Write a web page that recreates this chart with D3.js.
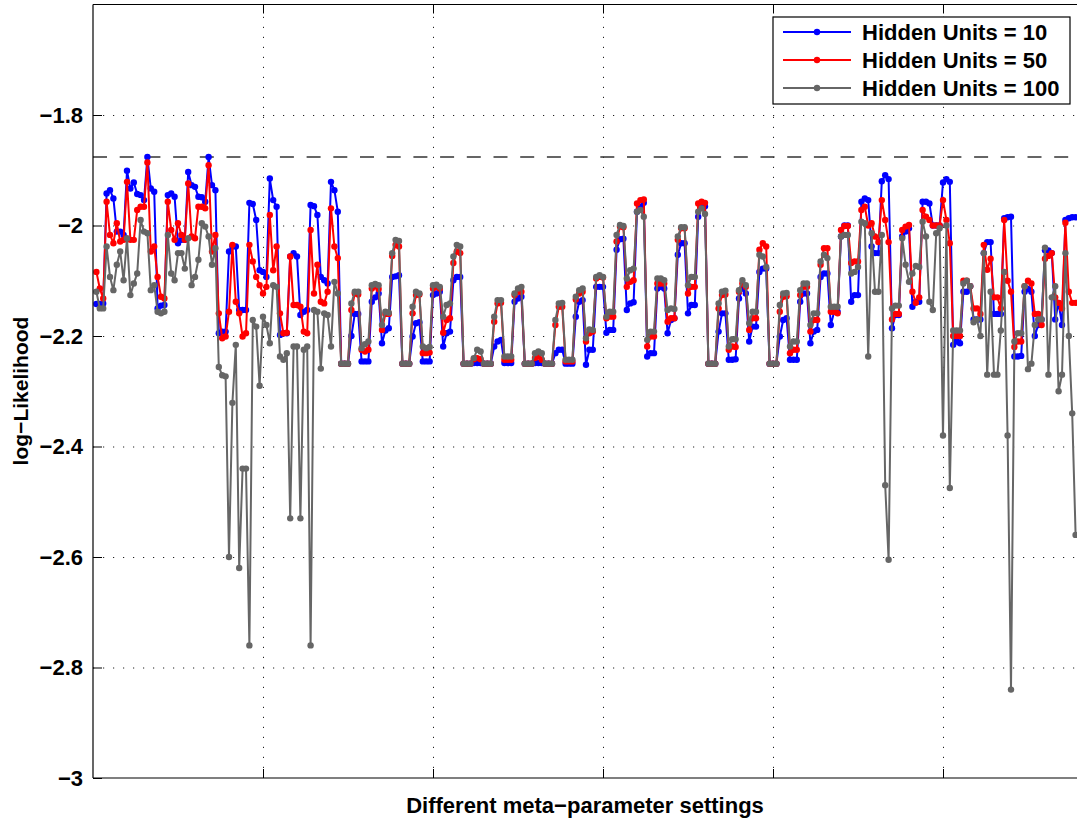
<!DOCTYPE html>
<html>
<head>
<meta charset="utf-8">
<script src="https://cdn.jsdelivr.net/npm/d3@7"></script>
<style>
  body { margin: 0; background: #fff; }
  svg { display: block; }
  text { font-family: "Liberation Sans", Arial, Helvetica, sans-serif; font-weight: bold; }
</style>
</head>
<body>
<svg id="chart" width="1077" height="821"></svg>
<script>
// log-likelihood per meta-parameter setting, one array per network size
const hidden10 = [
  -2.142,-2.142,-2.141,-1.942,-1.936,-1.951,-2.011,-2.011,-2.017,-1.901,-1.933,-1.922,-1.943,-1.945,-1.954,-1.876,-1.933,-1.939,
  -2.150,-2.145,-2.144,-1.945,-1.942,-1.948,-2.032,-2.026,-2.026,-1.903,-1.927,-1.930,-1.948,-1.949,-1.957,-1.876,-1.927,-1.936,
  -2.195,-2.192,-2.192,-2.047,-2.038,-2.038,-2.153,-2.153,-2.153,-1.959,-1.961,-1.990,-2.081,-2.084,-2.093,-1.915,-1.954,-1.966,
  -2.198,-2.195,-2.195,-2.056,-2.050,-2.056,-2.162,-2.156,-2.153,-1.963,-1.965,-1.981,-2.093,-2.099,-2.105,-1.921,-1.936,-1.975,
  -2.250,-2.250,-2.250,-2.200,-2.160,-2.160,-2.246,-2.246,-2.246,-2.138,-2.130,-2.123,-2.213,-2.190,-2.186,-2.093,-2.092,-2.090,
  -2.250,-2.250,-2.250,-2.201,-2.177,-2.175,-2.246,-2.246,-2.246,-2.126,-2.123,-2.120,-2.219,-2.195,-2.192,-2.099,-2.093,-2.093,
  -2.250,-2.250,-2.250,-2.249,-2.249,-2.249,-2.250,-2.250,-2.250,-2.219,-2.210,-2.207,-2.249,-2.249,-2.249,-2.138,-2.132,-2.129,
  -2.250,-2.250,-2.250,-2.249,-2.249,-2.249,-2.250,-2.250,-2.250,-2.231,-2.225,-2.225,-2.250,-2.250,-2.250,-2.165,-2.138,-2.135,
  -2.252,-2.225,-2.225,-2.111,-2.111,-2.111,-2.194,-2.189,-2.189,-2.044,-2.025,-2.024,-2.153,-2.141,-2.139,-1.975,-1.966,-1.959,
  -2.237,-2.231,-2.231,-2.114,-2.111,-2.114,-2.195,-2.171,-2.168,-2.053,-2.032,-2.032,-2.159,-2.144,-2.144,-1.984,-1.966,-1.965,
  -2.250,-2.250,-2.250,-2.192,-2.159,-2.159,-2.243,-2.243,-2.242,-2.132,-2.114,-2.123,-2.210,-2.183,-2.183,-2.084,-2.078,-2.078,
  -2.250,-2.250,-2.250,-2.201,-2.171,-2.168,-2.243,-2.243,-2.243,-2.138,-2.123,-2.123,-2.213,-2.192,-2.189,-2.093,-2.087,-2.087,
  -2.180,-2.156,-2.156,-2.020,-2.000,-2.000,-2.138,-2.126,-2.126,-1.957,-1.951,-1.954,-2.038,-2.050,-2.050,-1.920,-1.909,-1.916,
  -2.186,-2.162,-2.162,-2.020,-2.011,-2.005,-2.147,-2.138,-2.138,-1.957,-1.957,-1.960,-2.000,-2.000,-2.000,-1.922,-1.916,-1.921,
  -2.216,-2.210,-2.213,-2.120,-2.120,-2.110,-2.170,-2.170,-2.170,-2.050,-2.030,-2.030,-2.160,-2.160,-2.160,-1.987,-1.985,-1.984,
  -2.237,-2.237,-2.236,-2.120,-2.115,-2.120,-2.200,-2.180,-2.170,-2.045,-2.045,-2.050,-2.170,-2.140,-2.180,-1.990,-1.987,-1.985,
  -1.985
];
const hidden50 = [
  -2.084,-2.114,-2.132,-1.957,-2.017,-2.032,-1.996,-2.029,-2.026,-1.921,-2.026,-2.026,-1.972,-1.966,-1.966,-1.886,-2.047,-2.038,
  -2.093,-2.129,-2.132,-1.957,-2.008,-2.026,-1.996,-2.017,-2.026,-1.924,-2.020,-2.023,-1.966,-1.966,-1.969,-1.891,-2.047,-2.017,
  -2.159,-2.204,-2.201,-2.156,-2.035,-2.138,-2.159,-2.201,-2.195,-2.035,-2.065,-2.093,-2.108,-2.123,-2.111,-1.981,-2.081,-2.038,
  -2.159,-2.195,-2.194,-2.056,-2.144,-2.144,-2.147,-2.192,-2.195,-2.008,-2.123,-2.071,-2.138,-2.141,-2.120,-1.969,-2.038,-2.059,
  -2.250,-2.250,-2.250,-2.153,-2.123,-2.125,-2.225,-2.228,-2.225,-2.114,-2.110,-2.115,-2.189,-2.160,-2.160,-2.055,-2.035,-2.038,
  -2.250,-2.250,-2.250,-2.159,-2.126,-2.125,-2.231,-2.231,-2.230,-2.114,-2.111,-2.114,-2.194,-2.171,-2.168,-2.068,-2.047,-2.050,
  -2.250,-2.250,-2.250,-2.242,-2.240,-2.242,-2.250,-2.250,-2.250,-2.174,-2.141,-2.140,-2.243,-2.243,-2.243,-2.126,-2.120,-2.120,
  -2.250,-2.250,-2.250,-2.240,-2.237,-2.243,-2.250,-2.250,-2.250,-2.180,-2.147,-2.147,-2.246,-2.246,-2.246,-2.134,-2.123,-2.120,
  -2.210,-2.195,-2.192,-2.096,-2.093,-2.094,-2.168,-2.165,-2.165,-2.029,-2.002,-2.003,-2.111,-2.102,-2.099,-1.960,-1.954,-1.953,
  -2.219,-2.201,-2.201,-2.105,-2.105,-2.105,-2.174,-2.168,-2.168,-2.026,-2.005,-2.005,-2.123,-2.111,-2.111,-1.960,-1.957,-1.959,
  -2.250,-2.250,-2.250,-2.150,-2.126,-2.125,-2.225,-2.219,-2.220,-2.120,-2.105,-2.111,-2.189,-2.168,-2.168,-2.044,-2.032,-2.038,
  -2.250,-2.250,-2.250,-2.156,-2.129,-2.128,-2.231,-2.225,-2.225,-2.126,-2.111,-2.111,-2.192,-2.171,-2.171,-2.071,-2.041,-2.041,
  -2.156,-2.156,-2.159,-2.008,-2.001,-2.001,-2.068,-2.065,-2.065,-1.972,-1.966,-2.000,-1.996,-2.020,-2.030,-1.954,-1.990,-2.030,
  -2.170,-2.160,-2.160,-2.008,-2.002,-1.999,-2.120,-2.140,-2.130,-1.972,-1.984,-1.990,-2.000,-2.000,-2.000,-1.954,-1.990,-2.032,
  -2.200,-2.200,-2.200,-2.100,-2.100,-2.110,-2.150,-2.150,-2.160,-2.035,-2.080,-2.060,-2.130,-2.130,-2.150,-1.990,-2.100,-2.120,
  -2.220,-2.210,-2.210,-2.110,-2.100,-2.105,-2.160,-2.160,-2.180,-2.060,-2.055,-2.050,-2.130,-2.140,-2.150,-1.995,-2.120,-2.140,
  -2.140
];
const hidden100 = [
  -2.120,-2.150,-2.150,-2.038,-2.093,-2.117,-2.071,-2.047,-2.099,-2.023,-2.126,-2.105,-2.087,-1.990,-2.011,-2.014,-2.117,-2.108,
  -2.156,-2.159,-2.156,-2.017,-2.087,-2.099,-2.050,-2.050,-2.078,-2.023,-2.108,-2.093,-2.062,-1.996,-2.002,-2.020,-2.071,-2.041,
  -2.256,-2.271,-2.273,-2.600,-2.321,-2.216,-2.620,-2.440,-2.440,-2.760,-2.171,-2.183,-2.290,-2.165,-2.180,-2.213,-2.108,-2.111,
  -2.237,-2.243,-2.231,-2.530,-2.219,-2.219,-2.530,-2.225,-2.219,-2.760,-2.153,-2.156,-2.259,-2.159,-2.162,-2.219,-2.102,-2.123,
  -2.250,-2.250,-2.250,-2.141,-2.120,-2.120,-2.222,-2.215,-2.210,-2.108,-2.106,-2.108,-2.180,-2.156,-2.158,-2.050,-2.026,-2.028,
  -2.250,-2.250,-2.250,-2.147,-2.120,-2.123,-2.219,-2.222,-2.220,-2.108,-2.107,-2.111,-2.165,-2.144,-2.141,-2.056,-2.035,-2.038,
  -2.250,-2.250,-2.250,-2.240,-2.225,-2.228,-2.250,-2.250,-2.250,-2.165,-2.135,-2.135,-2.237,-2.237,-2.237,-2.123,-2.114,-2.111,
  -2.250,-2.250,-2.250,-2.231,-2.228,-2.231,-2.250,-2.250,-2.250,-2.171,-2.141,-2.140,-2.243,-2.243,-2.243,-2.129,-2.117,-2.114,
  -2.204,-2.188,-2.189,-2.093,-2.090,-2.093,-2.165,-2.156,-2.156,-2.017,-1.999,-2.001,-2.096,-2.081,-2.078,-1.975,-1.972,-1.984,
  -2.207,-2.192,-2.192,-2.096,-2.096,-2.099,-2.153,-2.150,-2.151,-2.020,-2.003,-2.003,-2.108,-2.093,-2.093,-1.975,-1.969,-1.979,
  -2.250,-2.250,-2.250,-2.141,-2.120,-2.118,-2.219,-2.206,-2.206,-2.117,-2.099,-2.108,-2.177,-2.156,-2.156,-2.053,-2.056,-2.075,
  -2.250,-2.250,-2.250,-2.144,-2.123,-2.122,-2.219,-2.210,-2.210,-2.117,-2.105,-2.105,-2.180,-2.159,-2.159,-2.065,-2.053,-2.059,
  -2.147,-2.147,-2.147,-2.020,-2.017,-2.017,-2.087,-2.084,-2.075,-1.993,-1.996,-2.237,-2.014,-2.120,-2.120,-2.017,-2.470,-2.605,
  -2.150,-2.145,-2.145,-2.023,-2.071,-2.102,-2.087,-2.073,-2.075,-1.993,-2.020,-2.138,-2.153,-2.014,-2.005,-2.380,-2.000,-2.475,
  -2.190,-2.190,-2.190,-2.105,-2.100,-2.110,-2.175,-2.170,-2.200,-2.050,-2.270,-2.120,-2.270,-2.270,-2.190,-2.084,-2.380,-2.840,
  -2.210,-2.195,-2.195,-2.110,-2.260,-2.250,-2.180,-2.170,-2.170,-2.040,-2.270,-2.130,-2.110,-2.300,-2.270,-2.050,-2.200,-2.340,
  -2.560
];

const seriesNames = ["Hidden Units = 10", "Hidden Units = 50", "Hidden Units = 100"];
const seriesColors = ["#0000ff", "#ff0000", "#666666"];
const yTickValues = [-3, -2.8, -2.6, -2.4, -2.2, -2, -1.8];
const xGridValues = [50, 100, 150, 200, 250];
const bestScore = -1.876;   // reference log-likelihood, drawn dashed

(function draw() {
  const svg = d3.select("#chart");
  const plotLeft = 93, plotRight = 1079, plotTop = 4.5, plotBottom = 778;
  const fontPx = 22;

  const x = d3.scaleLinear().domain([0, 290]).range([plotLeft, plotRight]);
  const y = d3.scaleLinear().domain([-3, -1.6]).range([plotBottom, plotTop]);

  svg.append("defs").append("clipPath").attr("id", "plotClip")
    .append("rect").attr("x", plotLeft).attr("y", plotTop)
    .attr("width", plotRight - plotLeft).attr("height", plotBottom - plotTop);

  // dotted grid
  const grid = svg.append("g").attr("stroke", "#222").attr("stroke-width", 1)
    .attr("stroke-dasharray", "1.2,8.8");
  grid.selectAll(".gy").data(yTickValues.filter(v => v > -3)).join("line")
    .attr("x1", plotLeft).attr("x2", plotRight)
    .attr("y1", d => y(d) + 0.5).attr("y2", d => y(d) + 0.5);
  grid.selectAll(".gx").data(xGridValues).join("line")
    .attr("x1", d => Math.round(x(d)) + 0.5).attr("x2", d => Math.round(x(d)) + 0.5)
    .attr("y1", plotBottom).attr("y2", plotTop);

  // dashed reference level
  svg.append("line")
    .attr("x1", plotLeft).attr("x2", plotRight)
    .attr("y1", y(bestScore)).attr("y2", y(bestScore))
    .attr("stroke", "#333").attr("stroke-width", 1.3).attr("stroke-dasharray", "14,12.7");

  // series
  const plot = svg.append("g").attr("clip-path", "url(#plotClip)");
  const allSeries = [hidden10, hidden50, hidden100];
  const line = d3.line().x((d, i) => x(i + 1)).y(d => y(d));
  allSeries.forEach((vals, k) => {
    const g = plot.append("g");
    g.append("path").datum(vals).attr("d", line)
      .attr("fill", "none").attr("stroke", seriesColors[k])
      .attr("stroke-width", 2).attr("stroke-linejoin", "round");
    g.selectAll("circle").data(vals).join("circle")
      .attr("cx", (d, i) => x(i + 1)).attr("cy", d => y(d)).attr("r", 3.2)
      .attr("fill", seriesColors[k]);
  });

  // axes: box edges with inward ticks
  const yAxis = d3.axisLeft(y).tickValues(yTickValues).tickSize(-9).tickPadding(10)
    .tickFormat(d3.format(""));
  const yG = svg.append("g").attr("transform", `translate(${plotLeft},0)`).call(yAxis);
  yG.select(".domain").attr("d", `M0,${plotTop}V${plotBottom}`)
    .attr("stroke", "#000").attr("stroke-width", 1.2);
  yG.selectAll(".tick line").attr("stroke", "#000");
  yG.selectAll(".tick text").attr("font-size", fontPx).attr("fill", "#000")
    .attr("font-family", "'Liberation Sans', Arial, sans-serif").attr("font-weight", "bold");

  const xAxis = d3.axisBottom(x).tickValues(xGridValues).tickSize(-9).tickFormat("");
  const xG = svg.append("g").attr("transform", `translate(0,${plotBottom})`).call(xAxis);
  xG.select(".domain").attr("d", `M${plotLeft},0H${plotRight}`)
    .attr("stroke", "#000").attr("stroke-width", 1.2);
  xG.selectAll(".tick line").attr("stroke", "#000");

  const xTop = d3.axisTop(x).tickValues(xGridValues).tickSize(-9).tickFormat("");
  const xTG = svg.append("g").attr("transform", `translate(0,${plotTop})`).call(xTop);
  xTG.select(".domain").attr("d", `M${plotLeft},0H${plotRight}`)
    .attr("stroke", "#000").attr("stroke-width", 1.2);
  xTG.selectAll(".tick line").attr("stroke", "#000");

  // axis titles
  svg.append("text").attr("x", 585).attr("y", 813).attr("text-anchor", "middle")
    .attr("font-size", fontPx).text("Different meta\u2212parameter settings");
  svg.append("text").attr("transform", "translate(28,391) rotate(-90)")
    .attr("text-anchor", "middle").attr("font-size", 21).text("log\u2212Likelihood");

  // legend
  const lg = svg.append("g").attr("transform", "translate(773,17)");
  lg.append("rect").attr("width", 297).attr("height", 87).attr("fill", "#fff")
    .attr("stroke", "#000").attr("stroke-width", 1.2);
  seriesNames.forEach((name, k) => {
    const ry = 15 + k * 28;
    lg.append("line").attr("x1", 10).attr("x2", 78).attr("y1", ry).attr("y2", ry)
      .attr("stroke", seriesColors[k]).attr("stroke-width", 2);
    lg.append("circle").attr("cx", 44).attr("cy", ry).attr("r", 3.2).attr("fill", seriesColors[k]);
    lg.append("text").attr("x", 89).attr("y", ry + 8).attr("font-size", fontPx).text(name);
  });
})();
</script>
</body>
</html>
